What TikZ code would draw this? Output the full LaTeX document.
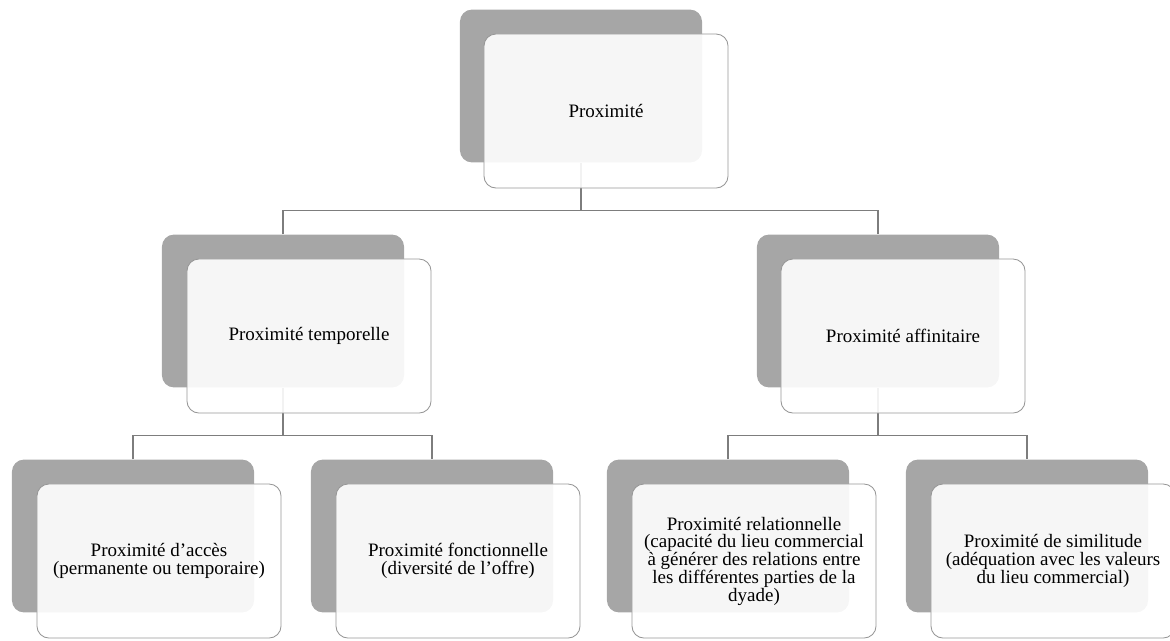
\documentclass[tikz,border=0pt]{standalone}
\usepackage{fontspec}
\setmainfont{Liberation Serif}
\usetikzlibrary{backgrounds}
\definecolor{shadegray}{RGB}{166,166,166}
\definecolor{linegray}{RGB}{125,125,125}
\definecolor{edgegray}{RGB}{150,150,150}
\tikzset{
	back/.style={fill=shadegray, rounded corners=0.3cm, minimum width=6.05cm, minimum height=3.82cm, inner sep=0pt},
	front/.style={draw=edgegray, line width=0.6pt, fill=white, fill opacity=0.9, text opacity=1, rounded corners=0.3cm, minimum width=6.1cm, minimum height=3.85cm, inner sep=0pt, align=center, font=\fontsize{13.5pt}{12.6pt}\selectfont},
	link/.style={draw=linegray, line width=1pt}
}
\begin{document}
\begin{tikzpicture}[x=0.025cm, y=-0.025cm]
	\useasboundingbox (0,0) rectangle (1170,640);
	\node[back] (prox-b) at (581,86) {};
	\node[front] (prox) at (606,111) {Proximité};
	\node[back] (temp-b) at (283,311) {};
	\node[front] (temp) at (309,336) {Proximité temporelle};
	\node[back] (affi-b) at (878,311) {};
	\node[front] (affi) at (903,336) {Proximité affinitaire};
	\node[back] (acces-b) at (133,536) {};
	\node[front] (acces) at (159,561) {Proximité d’accès\\(permanente ou temporaire)};
	\node[back] (fonc-b) at (432,536) {};
	\node[front] (fonc) at (458,561) {Proximité fonctionnelle\\(diversité de l’offre)};
	\node[back] (rel-b) at (728,536) {};
	\node[front] (rel) at (754,561) {Proximité relationnelle\\(capacité du lieu commercial\\à générer des relations entre\\les différentes parties de la\\dyade)};
	\node[back] (sim-b) at (1027,536) {};
	\node[front] (sim) at (1053,561) {Proximité de similitude\\(adéquation avec les valeurs\\du lieu commercial)};
	\begin{scope}[on background layer]
		\draw[link] (prox-b.south) -- ++(0,48) coordinate (j1);
		\draw[link] (temp-b.north) |- (j1) -| (affi-b.north);
		\draw[link] (temp-b.south) -- ++(0,48) coordinate (j2);
		\draw[link] (acces-b.north) |- (j2) -| (fonc-b.north);
		\draw[link] (affi-b.south) -- ++(0,48) coordinate (j3);
		\draw[link] (rel-b.north) |- (j3) -| (sim-b.north);
	\end{scope}
\end{tikzpicture}
\end{document}
